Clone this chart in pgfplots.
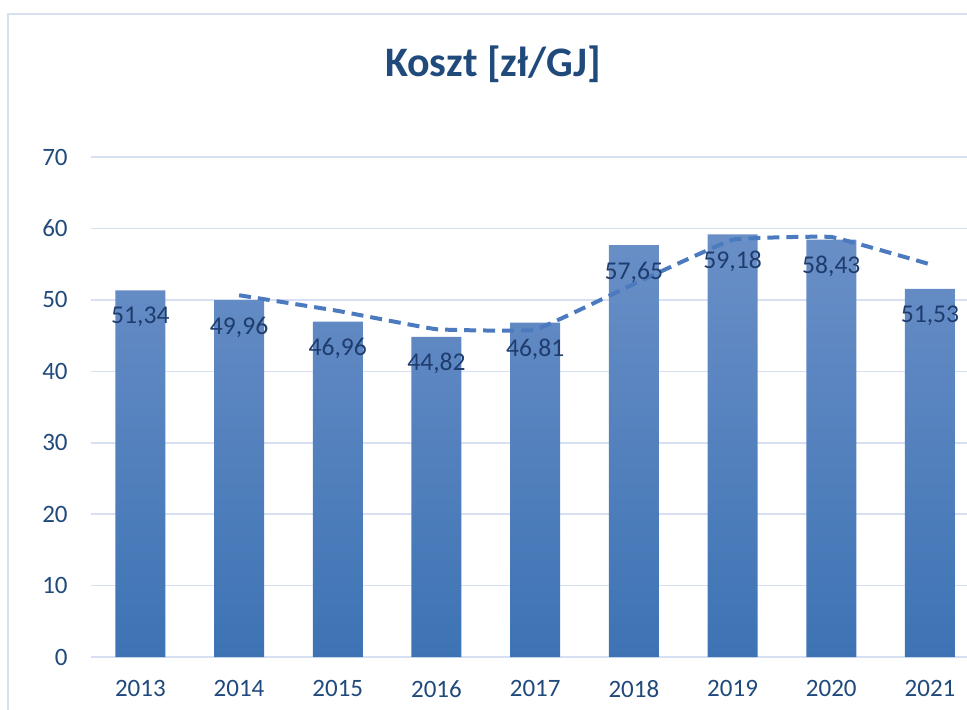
\documentclass[border=0pt]{standalone}
\usepackage{pgfplots}
\pgfplotsset{compat=1.18}
\usepackage{fontspec}
\setmainfont{Carlito}
\definecolor{txtc}{RGB}{32,74,124}
\definecolor{lblc}{RGB}{30,60,110}
\definecolor{bartop}{RGB}{106,143,199}
\definecolor{barbot}{RGB}{61,115,180}
\definecolor{trendc}{RGB}{75,122,190}
\definecolor{gridc}{RGB}{214,224,242}
\begin{document}
\begin{tikzpicture}
\begin{axis}[
  name=ax, at={(0,0)}, anchor=south west,
  scale only axis, width=438pt, height=250pt,
  xmin=-0.5, xmax=8.375, ymin=0, ymax=70,
  ytick={0,10,...,70},
  xtick={0,...,8},
  xticklabels={2013,2014,2015,2016,2017,2018,2019,2020,2021},
  ymajorgrids, grid style={gridc, line width=0.8pt},
  axis line style={draw=none},
  major tick length=0pt, tick style={draw=none},
  /pgf/number format/assume math mode=true,
  ticklabel style={font=\fontsize{12.5}{15}\selectfont, text=txtc},
  yticklabel style={inner sep=0pt, anchor=east, xshift=-11.5pt},
  xticklabel style={inner sep=0pt, anchor=north, yshift=-11.5pt},
  clip=false,
]
\addplot[ybar, bar width=25pt, draw=none, top color=bartop, bottom color=barbot,
  nodes near coords, point meta=explicit symbolic,
  every node near coord/.append style={anchor=center, yshift=-13.5pt, font=\fontsize{12.8}{15}\selectfont, text=lblc}]
  table[meta=label] {
x y label
0 51.34 {51,34}
1 49.96 {49,96}
2 46.96 {46,96}
3 44.82 {44,82}
4 46.81 {46,81}
5 57.65 {57,65}
6 59.18 {59,18}
7 58.43 {58,43}
8 51.53 {51,53}
};
\addplot[trendc, line width=2pt, dash pattern=on 6pt off 3.5pt, smooth, tension=0.15, mark=none]
  coordinates {(1,50.65) (2,48.46) (3,45.89) (4,45.815) (5,52.23) (6,58.415) (7,58.805) (8,54.98)};
\end{axis}
\draw[gridc, line width=0.8pt] (-41.5pt,-40pt) -- (-41.5pt,321.5pt) -- (460pt,321.5pt);
\node[anchor=base, font=\fontsize{21}{25}\selectfont\bfseries, text=txtc, inner sep=0pt] at (201pt,290.5pt) {Koszt [zł/GJ]};
\pgfresetboundingbox
\path[use as bounding box] (-45.5pt,-26pt) rectangle (438pt,328.5pt);
\end{tikzpicture}
\end{document}
